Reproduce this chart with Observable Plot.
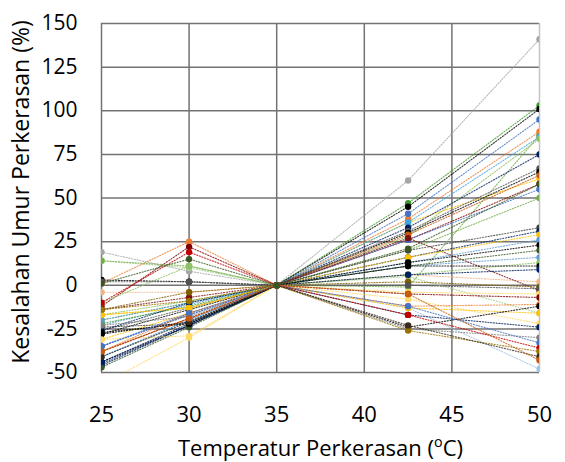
<!DOCTYPE html>
<html>
<head>
<meta charset="utf-8">
<script src="https://cdn.jsdelivr.net/npm/d3@7"></script>
<script src="https://cdn.jsdelivr.net/npm/@observablehq/plot@0.6"></script>
<style>
  html, body { margin: 0; padding: 0; background: #fff; }
</style>
</head>
<body>
<div id="chart"></div>
<script>
// Pavement temperatures (°C) at which the life error was evaluated
const temps = [25, 30, 35, 42.5, 50];
const xTicks = [25, 30, 35, 40, 45, 50];
const yTicks = [-50, -25, 0, 25, 50, 75, 100, 125, 150];

// One entry per pavement section: line/marker colour and error (%) at each temperature
const lineColors = [
  "#A5A5A5", "#FFD966", "#9DC3E6", "#A9D18E", "#F4B183", "#70AD47", "#5B9BD5", "#FFC000",
  "#ED7D31", "#4472C4", "#3E9A2C", "#000000", "#41A5E0", "#8FBF5A", "#002060", "#595959",
  "#000000", "#C55A11", "#800000", "#4472C4", "#7B1010", "#70AD47", "#404040", "#002060",
  "#FFC000", "#5B9BD5", "#000000", "#385723", "#8CC168", "#000000", "#002060", "#7F6000",
  "#525252", "#FFD966", "#800000", "#ED7D31", "#FFC000", "#002060", "#000000", "#7F7F7F",
  "#4472C4", "#C00000", "#997300", "#3B2A1A", "#C55A11", "#385723"
];
const err25 = [
  19, -57, -41, 14, -4, -20, -23, -31,
  1, -35, -22, -44, -41, -17, -46, -26,
  -28, -38, -12, -35, -14, 14, -24, -45,
  -17, -20, 3, -47, -10, -28, -26, -14,
  2, -31, -38, -38, -17, -44, -27, -23,
  -35, -10, -14, -41, -38, 1
];
const err30 = [
  8, -30, -20, 10, -4, -10, -11, -16,
  25, -17, -12, -23, -20, -9, -23, -13,
  -14, -19, 22, -17, -7, 11, -22, -23,
  -13, -10, 2, -24, 11, -21, -10, -4,
  2, -29, -19, -16, -13, -22, -22, -18,
  -16, 19, -9, -21, -19, 15
];
const err35 = [
  0, 0, 0, 0, 0, 0, 0, 0,
  0, 0, 0, 0, 0, 0, 0, 0,
  0, 0, 0, 0, 0, 0, 0, 0,
  0, 0, 0, 0, 0, 0, 0, 0,
  0, 0, 0, 0, 0, 0, 0, 0,
  0, 0, 0, 0, 0, 0
];
const err42 = [
  60, -8, -13, 5, 6, -1, 11, 36,
  38, 41, 47, 45, 36, 28, 33, 31,
  30, 29, 26, 26, 27, 20, 20, 16,
  16, 13, 13, 11, 6, 11, 6, 2,
  0, -4, -5, -12, -13, -17, -24, -25,
  -12, -17, -26, -23, -5, 21
];
const err50 = [
  141, -22, -48, -16, 2, 86, 16, 61,
  88, 95, 103, 101, 85, 84, 75, 67,
  65, 63, 58, 55, -3, 50, 33, 31,
  29, 26, 23, 20, 13, 11, 9, -1,
  -2, -5, -7, -11, -16, -24, -12, -30,
  -33, -36, -38, -41, -43, 58
];

const xTitleParts = ["Temperatur Perkerasan (", "o", "C)"];
const yTitle = "Kesalahan Umur Perkerasan (%)";

// Long-format table: one row per section and temperature
const columns = [err25, err30, err35, err42, err50];
const rows = [];
lineColors.forEach((color, i) => {
  temps.forEach((t, j) => {
    rows.push({series: i, color, temp: t, err: columns[j][i]});
  });
});

const chart = Plot.plot({
  width: 565,
  height: 462,
  marginLeft: 101,
  marginRight: 26,
  marginTop: 23,
  marginBottom: 90,
  x: {domain: [25, 50], label: null},
  y: {domain: [-50, 150], label: null},
  color: {type: "identity"},
  style: {fontFamily: "'Open Sans', sans-serif", fontSize: "21px", color: "#000", background: "#fff"},
  marks: [
    Plot.gridY(yTicks, {stroke: "#737373", strokeOpacity: 1, strokeWidth: 1.5}),
    Plot.gridX(xTicks, {stroke: (d) => d === 50 ? "#c4c4c4" : "#737373", strokeOpacity: 1, strokeWidth: 1.5}),
    Plot.line(rows, {
      x: "temp", y: "err", z: "series", stroke: "color",
      strokeWidth: 1.1, strokeDasharray: "1.2 1.6", strokeOpacity: 0.8, clip: true
    }),
    Plot.dot(rows, {x: "temp", y: "err", fill: "color", r: 3.2, clip: true}),
    Plot.axisX(xTicks, {tickSize: 0, tickPadding: 34, fontSize: 22, label: null, tickFormat: (d) => String(d)}),
    Plot.axisY(yTicks, {tickSize: 0, tickPadding: 24, fontSize: 21, label: null, tickFormat: (d) => String(d)}),
    Plot.text([xTitleParts.join("")], {frameAnchor: "bottom", dy: 76, lineAnchor: "middle", textAnchor: "middle", fontSize: 22}),
    Plot.text([yTitle], {frameAnchor: "left", rotate: -90, dx: -80, dy: -6, textAnchor: "middle", lineAnchor: "middle", fontSize: 23})
  ]
});

// Raise the "o" of the degree unit as a superscript
d3.select(chart).selectAll("text").each(function () {
  if (this.textContent === xTitleParts.join("")) {
    const t = d3.select(this);
    t.text(null);
    t.append("tspan").text(xTitleParts[0]);
    t.append("tspan").attr("baseline-shift", "super").attr("font-size", "0.65em").text(xTitleParts[1]);
    t.append("tspan").text(xTitleParts[2]);
  }
});

document.getElementById("chart").appendChild(chart);
</script>
</body>
</html>
